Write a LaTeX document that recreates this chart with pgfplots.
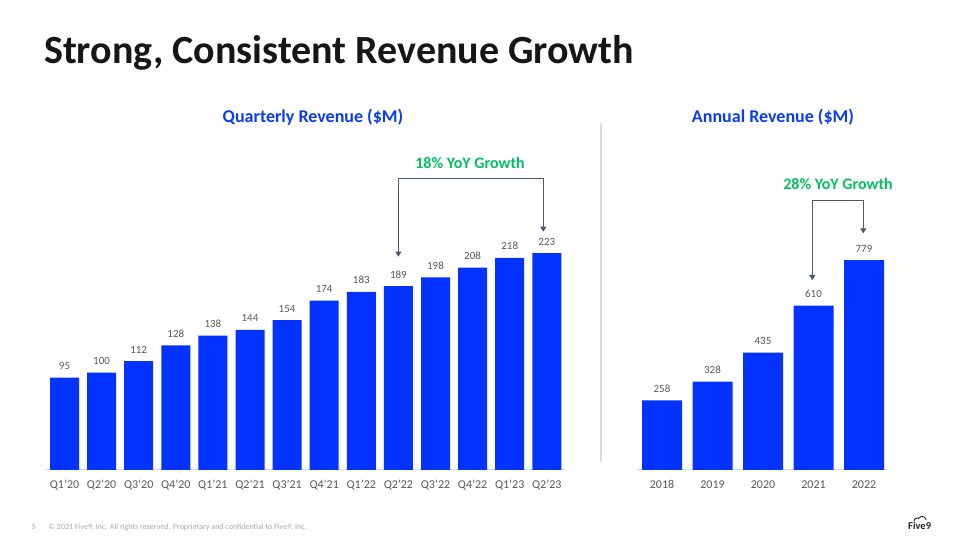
\documentclass[border=0pt]{standalone}
\usepackage{fontspec}
\setmainfont{Carlito}
\usepackage{pgfplots}
\pgfplotsset{compat=1.18}
\usetikzlibrary{arrows.meta}
\definecolor{barblue}{RGB}{4,51,255}
\definecolor{headblue}{RGB}{10,60,240}
\definecolor{growgreen}{RGB}{0,192,96}
\definecolor{arrowgray}{RGB}{77,88,104}
\definecolor{lbl}{RGB}{89,89,89}
\definecolor{titleblk}{RGB}{22,22,22}
\definecolor{sepgray}{RGB}{217,220,227}
\definecolor{footgray}{RGB}{170,170,170}
\pgfplotstableread{
x y
0 95
1 100
2 112
3 128
4 138
5 144
6 154
7 174
8 183
9 189
10 198
11 208
12 218
13 223
}\quarterly
\pgfplotstableread{
x y
0 258
1 328
2 435
3 610
4 779
}\annual
\pgfplotsset{
  revbars/.style={
    scale only axis,
    anchor=south west,
    ymin=0,
    axis x line*=bottom,
    x axis line style={-, draw=black!15, line width=1bp},
    hide y axis,
    xtick=data,
    xtick style={draw=none},
    major tick length=0pt,
    xticklabel style={font=\fontsize{12bp}{14bp}\selectfont, text=lbl, anchor=base, yshift=-19bp},
    /pgf/number format/assume math mode=true,
    nodes near coords,
    nodes near coords style={font=\fontsize{11bp}{13bp}\selectfont, text=lbl, anchor=base, yshift=8bp},
    clip=false,
  }
}
\begin{document}
\begin{tikzpicture}
\begin{scope}[x=1bp,y=1bp]
\fill[white] (0,0) rectangle (960,540);
\node[anchor=base west, inner sep=0, font=\fontsize{40bp}{48bp}\selectfont\bfseries, text=titleblk] at (44,476.5) {Strong, Consistent Revenue Growth};
\node[anchor=base, inner sep=0, font=\fontsize{18bp}{22bp}\selectfont\bfseries, text=headblue] at (313,417.3) {Quarterly Revenue (\$M)};
\node[anchor=base, inner sep=0, font=\fontsize{18bp}{22bp}\selectfont\bfseries, text=headblue] at (773,417.3) {Annual Revenue (\$M)};
\draw[sepgray, line width=1.5bp] (601,417) -- (601,78);
\end{scope}

\begin{axis}[revbars, at={(45.95bp,70bp)}, width=519.4bp, height=243.25bp,
  xmin=-0.5, xmax=13.5, ymax=250,
  xticklabels={Q1'20,Q2'20,Q3'20,Q4'20,Q1'21,Q2'21,Q3'21,Q4'21,Q1'22,Q2'22,Q3'22,Q4'22,Q1'23,Q2'23}]
\addplot[ybar, bar width=29bp, fill=barblue, draw=none] table[x=x,y=y] {\quarterly};
\end{axis}

\begin{axis}[revbars, at={(636.75bp,70bp)}, width=252.5bp, height=242.6bp,
  xmin=-0.5, xmax=4.5, ymax=900,
  xticklabels={2018,2019,2020,2021,2022}]
\addplot[ybar, bar width=40bp, fill=barblue, draw=none] table[x=x,y=y] {\annual};
\end{axis}

\begin{scope}[x=1bp,y=1bp]
% growth annotations
\node[anchor=base, inner sep=0, font=\fontsize{16bp}{19bp}\selectfont\bfseries, text=growgreen] at (470,371.7) {18\% YoY Growth};
\draw[arrowgray, line width=1bp, {Triangle[length=5bp,width=6bp]}-{Triangle[length=5bp,width=6bp]}]
  (398.4,283.3) -- (398.4,361.7) -- (543.3,361.7) -- (543.3,308.3);
\node[anchor=base, inner sep=0, font=\fontsize{16bp}{19bp}\selectfont\bfseries, text=growgreen] at (838,350.7) {28\% YoY Growth};
\draw[arrowgray, line width=1bp, {Triangle[length=5bp,width=6bp]}-{Triangle[length=5bp,width=6bp]}]
  (812.3,260) -- (812.3,339) -- (863.3,339) -- (863.3,306.7);

% footer
\node[anchor=base west, inner sep=0, font=\fontsize{8bp}{9bp}\selectfont, text=footgray] at (31.5,10) {5};
\node[anchor=base west, inner sep=0, font=\fontsize{8bp}{9bp}\selectfont, text=footgray] at (48.3,10) {© 2021 Five9, Inc. All rights reserved. Proprietary and confidential to Five9, Inc.};
\node[anchor=base west, inner sep=0, font=\fontsize{10.5bp}{12bp}\selectfont\bfseries, text=black!85] at (908,10) {Five9};
\draw[black!85, line width=0.9bp] (914,19) arc[start angle=180, end angle=60, radius=3] arc[start angle=150, end angle=10, radius=4.2];
\useasboundingbox (0,0) rectangle (960,540);
\end{scope}
\end{tikzpicture}
\end{document}
